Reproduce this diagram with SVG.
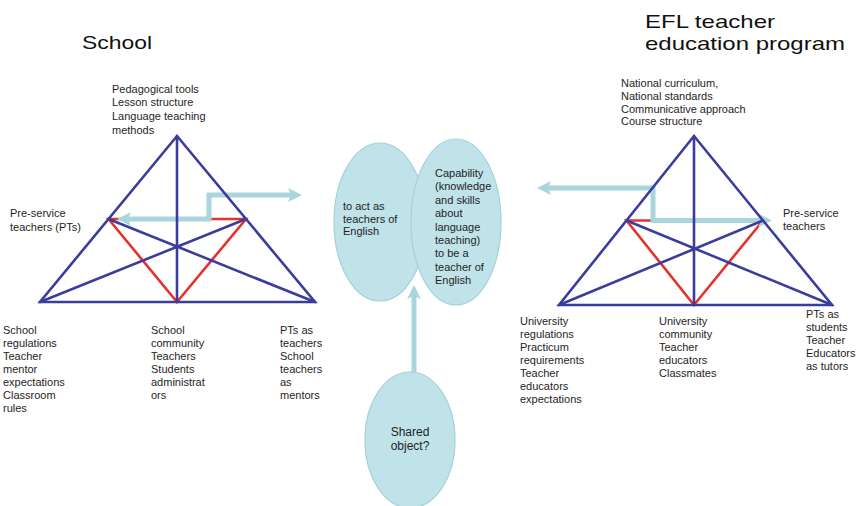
<svg xmlns="http://www.w3.org/2000/svg" width="860" height="506" viewBox="0 0 860 506">
  <style>
    text { font-family: "Liberation Sans", Arial, sans-serif; fill: #1e1e1e; }
    .t11 { font-size: 11px; }
    .t12 { font-size: 12px; }
    .title { font-size: 19px; fill: #111; }
    .blue { stroke: #3b3d9c; stroke-width: 2.6; fill: none; stroke-linecap: round; }
    .red { stroke: #e5322b; stroke-width: 2.6; fill: none; stroke-linecap: round; }
    .flow { stroke: #a9d6dc; stroke-width: 5; fill: none; }
    .oval { fill: #bfe3e9; stroke: #a6d0d8; stroke-width: 1.2; }
  </style>
  <defs>
    <marker id="head" viewBox="0 -7 14 14" refX="3" refY="0" markerWidth="14" markerHeight="14" markerUnits="userSpaceOnUse" orient="auto-start-reverse">
      <path d="M0,-7 L14,0 L0,7 L3,0 Z" fill="#a9d6dc"/>
    </marker>
  </defs>

  <rect width="860" height="506" fill="#ffffff"/>

  <!-- Titles -->
  <g id="title-school">
    <text class="title" x="82" y="49" font-size="20" textLength="70" lengthAdjust="spacingAndGlyphs">School</text>
  </g>
  <g id="title-efl">
    <text class="title" x="645" y="28" textLength="130" lengthAdjust="spacingAndGlyphs">EFL teacher</text>
    <text class="title" x="645" y="50" textLength="200" lengthAdjust="spacingAndGlyphs">education program</text>
  </g>

  <!-- Left triangle: school activity system -->
  <g id="triangle-school">
    <g class="red-lines">
      <path class="red" d="M108.5,219 L177,302 L246,219 Z"/>
    </g>
  </g>

  <!-- Right triangle: teacher education activity system -->
  <g id="triangle-efl">
    <g class="red-lines">
      <path class="red" d="M626.5,220.5 L694,305 L763,220.5 Z"/>
    </g>
  </g>

  <!-- Connectors -->
  <g id="connectors">
    <path class="flow" d="M128,219 H209 V195 H291" marker-start="url(#head)" marker-end="url(#head)"/>
    <path class="flow" d="M548,188 H653 V220.5 H761" marker-start="url(#head)" marker-end="url(#head)"/>
    <path class="flow" d="M414,372 V296" marker-end="url(#head)"/>
  </g>

  <!-- Blue triangle frames drawn over the connectors -->
  <g id="triangle-school-frame">
    <path class="blue" d="M177,136 L40,302 L315,302 Z"/>
    <path class="blue" d="M177,136 V302 M40,302 L246,219 M315,302 L108.5,219"/>
  </g>
  <g id="triangle-efl-frame">
    <path class="blue" d="M694,136 L559,305 L832,305 Z"/>
    <path class="blue" d="M694,136 V305 M559,305 L763,220.5 M832,305 L626.5,220.5"/>
  </g>

  <!-- Left triangle labels -->
  <g id="school-tools">
    <text class="t11" x="112" y="92.5">Pedagogical tools</text>
    <text class="t11" x="112" y="106.3">Lesson structure</text>
    <text class="t11" x="112" y="120.1">Language teaching</text>
    <text class="t11" x="112" y="134">methods</text>
  </g>
  <g id="school-subject">
    <text class="t11" x="10" y="217">Pre-service</text>
    <text class="t11" x="10" y="230.5">teachers (PTs)</text>
  </g>
  <g id="school-rules">
    <text class="t11" x="3" y="334">School</text>
    <text class="t11" x="3" y="347">regulations</text>
    <text class="t11" x="3" y="360">Teacher</text>
    <text class="t11" x="3" y="373">mentor</text>
    <text class="t11" x="3" y="386">expectations</text>
    <text class="t11" x="3" y="399">Classroom</text>
    <text class="t11" x="3" y="412">rules</text>
  </g>
  <g id="school-community">
    <text class="t11" x="151" y="334">School</text>
    <text class="t11" x="151" y="347">community</text>
    <text class="t11" x="151" y="360">Teachers</text>
    <text class="t11" x="151" y="373">Students</text>
    <text class="t11" x="151" y="386">administrat</text>
    <text class="t11" x="151" y="399">ors</text>
  </g>
  <g id="school-division">
    <text class="t11" x="280" y="334">PTs as</text>
    <text class="t11" x="280" y="347">teachers</text>
    <text class="t11" x="280" y="360">School</text>
    <text class="t11" x="280" y="373">teachers</text>
    <text class="t11" x="280" y="386">as</text>
    <text class="t11" x="280" y="399">mentors</text>
  </g>

  <!-- Right triangle labels -->
  <g id="efl-tools">
    <text class="t11" x="621" y="87">National curriculum,</text>
    <text class="t11" x="621" y="99.8">National standards</text>
    <text class="t11" x="621" y="112.6">Communicative approach</text>
    <text class="t11" x="621" y="125.4">Course structure</text>
  </g>
  <g id="efl-subject">
    <text class="t11" x="783" y="217">Pre-service</text>
    <text class="t11" x="783" y="230">teachers</text>
  </g>
  <g id="efl-rules">
    <text class="t11" x="520" y="325">University</text>
    <text class="t11" x="520" y="338">regulations</text>
    <text class="t11" x="520" y="351">Practicum</text>
    <text class="t11" x="520" y="364">requirements</text>
    <text class="t11" x="520" y="377">Teacher</text>
    <text class="t11" x="520" y="390">educators</text>
    <text class="t11" x="520" y="403">expectations</text>
  </g>
  <g id="efl-community">
    <text class="t11" x="659" y="325">University</text>
    <text class="t11" x="659" y="338">community</text>
    <text class="t11" x="659" y="351">Teacher</text>
    <text class="t11" x="659" y="364">educators</text>
    <text class="t11" x="659" y="377">Classmates</text>
  </g>
  <g id="efl-division">
    <text class="t11" x="806" y="318">PTs as</text>
    <text class="t11" x="806" y="331">students</text>
    <text class="t11" x="806" y="344">Teacher</text>
    <text class="t11" x="806" y="357">Educators</text>
    <text class="t11" x="806" y="370">as tutors</text>
  </g>

  <!-- Objects -->
  <g id="object-school">
    <ellipse class="oval" cx="380" cy="222" rx="46" ry="79"/>
    <text class="t11" x="343" y="210">to act as</text>
    <text class="t11" x="343" y="222.5">teachers of</text>
    <text class="t11" x="343" y="235">English</text>
  </g>
  <g id="object-efl">
    <ellipse class="oval" cx="456" cy="222" rx="45" ry="83"/>
    <text class="t11" x="435" y="177">Capability</text>
    <text class="t11" x="435" y="190.4">(knowledge</text>
    <text class="t11" x="435" y="203.8">and skills</text>
    <text class="t11" x="435" y="217.2">about</text>
    <text class="t11" x="435" y="230.6">language</text>
    <text class="t11" x="435" y="244">teaching)</text>
    <text class="t11" x="435" y="257.4">to be a</text>
    <text class="t11" x="435" y="270.8">teacher of</text>
    <text class="t11" x="435" y="284.2">English</text>
  </g>
  <g id="object-shared">
    <ellipse class="oval" cx="410" cy="440" rx="45" ry="68"/>
    <text class="t12" x="410" y="436" text-anchor="middle">Shared</text>
    <text class="t12" x="410" y="450" text-anchor="middle">object?</text>
  </g>
</svg>
